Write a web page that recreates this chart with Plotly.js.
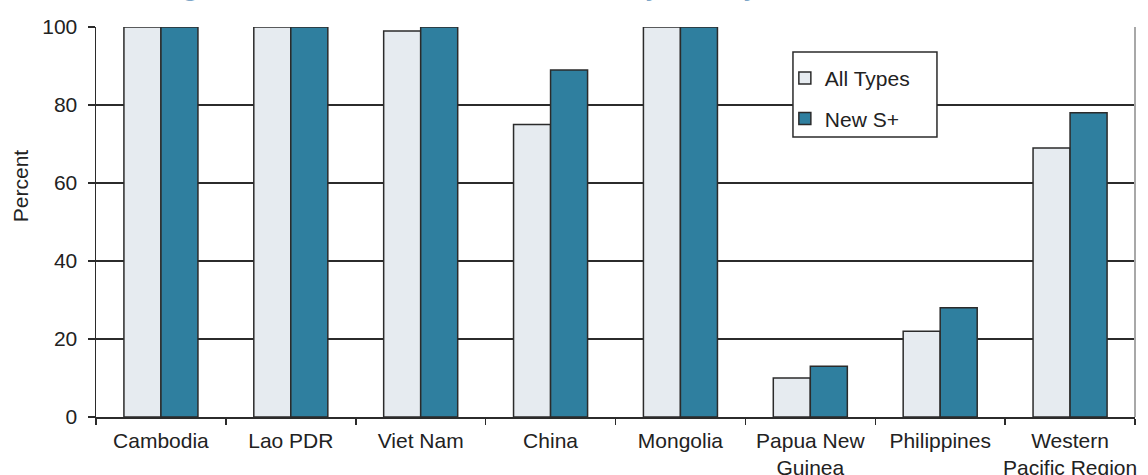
<!DOCTYPE html>
<html>
<head>
<meta charset="utf-8">
<script src="https://cdn.plot.ly/plotly-3.0.1.min.js"></script>
<style>
  html, body { margin: 0; padding: 0; background: #ffffff; }
  #chart { width: 1148px; height: 475px; }
</style>
</head>
<body>
<div id="chart"></div>
<script>
// Treatment success by country/area (percent)
const categories = [
  "Cambodia", "Lao PDR", "Viet Nam", "China", "Mongolia",
  "Papua New<br>Guinea", "Philippines", "Western<br>Pacific Region"
];
const allTypes = [100, 100, 99, 75, 100, 10, 22, 69];
const newSplus = [100, 100, 100, 89, 100, 13, 28, 78];
const seriesNames = ["All Types", "New S+"];
const yTicks = [0, 20, 40, 60, 80, 100];

const fontFamily = "'Liberation Sans', Arial, sans-serif";
const ink = "#2b2b2b";
const textColor = "#222222";
const fs = 21;

const traces = [
  {
    type: "bar",
    name: seriesNames[0],
    x: categories,
    y: allTypes,
    legendgroup: "a",
    marker: { color: "#e6ebf0", line: { color: ink, width: 1.5 } },
    hoverinfo: "x+y"
  },
  {
    type: "bar",
    name: seriesNames[1],
    x: categories,
    y: newSplus,
    legendgroup: "b",
    marker: { color: "#2f7f9f", line: { color: ink, width: 1.5 } },
    hoverinfo: "x+y"
  }
];

const layout = {
  width: 1148,
  height: 475,
  margin: { l: 96, r: 13, t: 27, b: 58, pad: 0 },
  paper_bgcolor: "#ffffff",
  plot_bgcolor: "#ffffff",
  font: { family: fontFamily, size: fs, color: textColor },
  barmode: "group",
  bargap: 0.43,
  bargroupgap: 0,
  showlegend: true,
  legend: {
    x: 0.663, y: 0.9206, xanchor: "left", yanchor: "top",
    bgcolor: "rgba(0,0,0,0)",
    borderwidth: 0,
    font: { family: fontFamily, size: fs, color: textColor },
    traceorder: "grouped",
    tracegroupgap: 10,
    itemwidth: 30
  },
  xaxis: {
    type: "category",
    showline: true, linecolor: ink, linewidth: 1.5,
    ticks: "outside", tickson: "boundaries", ticklen: 6,
    tickcolor: ink, tickwidth: 1.5,
    showgrid: false,
    tickangle: 0,
    automargin: false,
    tickfont: { family: fontFamily, size: fs, color: textColor },
    ticklabelstandoff: 4
  },
  yaxis: {
    range: [0, 100],
    tickvals: yTicks,
    ticktext: yTicks.map(String),
    showline: true, linecolor: ink, linewidth: 1.5,
    ticks: "outside", ticklen: 7, tickcolor: ink, tickwidth: 1.5,
    showgrid: true, gridcolor: ink, gridwidth: 1.3,
    zeroline: false,
    automargin: false,
    tickfont: { family: fontFamily, size: fs, color: textColor },
    ticklabelstandoff: 6
  },
  shapes: [
    {
      // right frame edge
      type: "line", xref: "paper", yref: "paper",
      x0: 1, x1: 1, y0: 0, y1: 1,
      line: { color: "#a8a8a8", width: 2 }
    },
    {
      // legend frame
      type: "rect", xref: "paper", yref: "paper", layer: "above",
      x0: 0.6708, x1: 0.8094, y0: 0.7179, y1: 0.9359,
      fillcolor: "#ffffff",
      line: { color: ink, width: 1.5 }
    }
  ],
  annotations: [
    {
      text: "Percent",
      xref: "paper", yref: "paper",
      x: -0.0731, y: 0.592, xanchor: "center", yanchor: "middle",
      textangle: -90,
      showarrow: false,
      font: { family: fontFamily, size: fs, color: textColor }
    },
    {
      text: "<b>Figure 9. DOTS treatment success rate by country/area, 2000</b>",
      xref: "paper", yref: "paper",
      x: 0.062, y: 1, xanchor: "left", yanchor: "bottom",
      yshift: 23,
      showarrow: false,
      font: { family: "'DejaVu Sans', sans-serif", size: 21, color: "#7ea6c8" }
    }
  ]
};

Plotly.newPlot("chart", traces, layout, { displayModeBar: false, staticPlot: true });
</script>
</body>
</html>
